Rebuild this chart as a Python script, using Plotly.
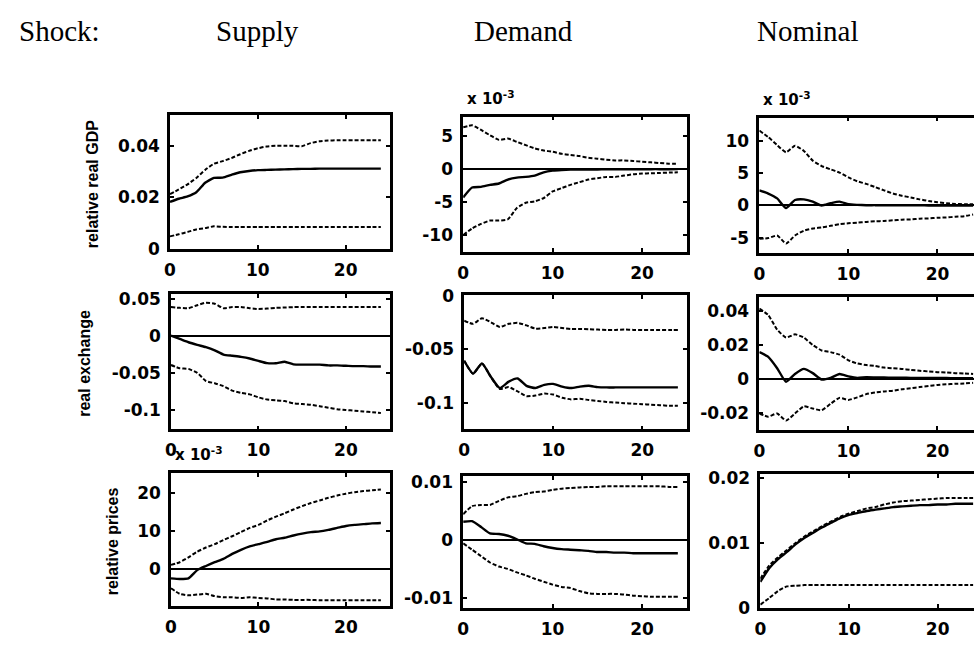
import plotly.graph_objects as go

W, H = 974, 646
horizon = list(range(25))

shocks = ["Supply", "Demand", "Nominal"]
variables = ["relative real GDP", "real exchange", "relative prices"]
x_ticks = [0, 10, 20]
x_tick_labels = ["0", "10", "20"]

# ---- relative real GDP ----
gdp_supply = [0.0182, 0.0194, 0.0203, 0.0219, 0.0256, 0.0275, 0.0276, 0.0287, 0.0297, 0.0302, 0.0305, 0.0306,
              0.0307, 0.0308, 0.0309, 0.0310, 0.0310, 0.0311, 0.0311, 0.0311, 0.0311, 0.0311, 0.0311, 0.0311, 0.0311]
gdp_supply_hi = [0.0212, 0.0230, 0.0250, 0.0275, 0.0306, 0.0330, 0.0340, 0.0352, 0.0367, 0.0380, 0.0390, 0.0397,
                 0.0400, 0.0400, 0.0400, 0.0398, 0.0410, 0.0417, 0.0420, 0.0421, 0.0421, 0.0421, 0.0421, 0.0421, 0.0421]
gdp_supply_lo = [0.0048, 0.0056, 0.0065, 0.0075, 0.0080, 0.0087, 0.0085, 0.0084, 0.0084, 0.0084, 0.0084, 0.0084,
                 0.0084, 0.0084, 0.0084, 0.0084, 0.0084, 0.0084, 0.0084, 0.0084, 0.0084, 0.0084, 0.0084, 0.0084, 0.0084]

# values in units of 1e-3
gdp_demand = [-4.3, -2.8, -2.7, -2.4, -2.2, -1.6, -1.3, -1.2, -1.0, -0.5, -0.25, -0.15, -0.1, -0.1, -0.08,
              -0.07, -0.06, -0.05, -0.05, -0.04, -0.04, -0.03, -0.03, -0.03, -0.02]
gdp_demand_hi = [6.3, 6.6, 5.9, 5.1, 4.4, 4.6, 4.1, 3.6, 3.1, 2.8, 2.6, 2.3, 2.1, 1.95, 1.7, 1.56, 1.4, 1.3,
                 1.3, 1.2, 1.1, 1.0, 0.9, 0.8, 0.8]
gdp_demand_lo = [-10.0, -9.0, -8.3, -7.8, -7.8, -7.6, -5.9, -5.1, -4.9, -4.4, -3.4, -2.9, -2.4, -2.0, -1.6,
                 -1.4, -1.2, -1.2, -1.0, -0.8, -0.7, -0.65, -0.6, -0.55, -0.5]

gdp_nominal = [2.35, 1.85, 1.1, -0.4, 0.85, 0.95, 0.6, 0.0, 0.35, 0.6, 0.2, 0.1, 0.05, 0.05, 0.03, 0.03,
               0.02, 0.02, 0.02, 0.01, 0.01, 0.01, 0.01, 0.01, 0.01]
gdp_nominal_hi = [11.6, 10.6, 9.35, 8.25, 9.25, 8.45, 6.95, 6.1, 5.6, 5.1, 4.35, 3.75, 3.35, 2.85, 2.35, 1.85,
                  1.5, 1.25, 0.95, 0.7, 0.5, 0.35, 0.25, 0.2, 0.2]
gdp_nominal_lo = [-5.15, -5.05, -4.65, -5.9, -4.65, -3.9, -3.55, -3.4, -3.15, -2.9, -2.75, -2.65, -2.55, -2.45,
                  -2.4, -2.3, -2.2, -2.15, -2.05, -2.0, -1.9, -1.85, -1.75, -1.65, -1.4]

# ---- real exchange ----
rer_supply = [0.0, -0.0044, -0.0088, -0.0123, -0.0154, -0.0197, -0.0254, -0.0270, -0.0285, -0.0307, -0.0340,
              -0.0370, -0.0370, -0.0350, -0.0386, -0.0390, -0.0390, -0.0390, -0.0400, -0.0400, -0.0405, -0.0410,
              -0.0410, -0.0415, -0.0415]
rer_supply_hi = [0.0386, 0.0375, 0.0370, 0.0410, 0.0445, 0.0430, 0.0370, 0.0385, 0.0385, 0.0370, 0.0360, 0.0365,
                 0.0375, 0.0380, 0.0385, 0.0385, 0.0385, 0.0385, 0.0385, 0.0385, 0.0385, 0.0385, 0.0385, 0.0385, 0.0385]
rer_supply_lo = [-0.0395, -0.0439, -0.0447, -0.0500, -0.0610, -0.0640, -0.0680, -0.0740, -0.0770, -0.0790, -0.0830,
                 -0.0860, -0.0870, -0.0880, -0.0910, -0.0920, -0.0930, -0.0950, -0.0970, -0.0990, -0.1000, -0.1010,
                 -0.1020, -0.1030, -0.1040]

rer_demand = [-0.0608, -0.0729, -0.0633, -0.0759, -0.0864, -0.0804, -0.0774, -0.0843, -0.0864, -0.0834, -0.0825,
              -0.0850, -0.0864, -0.0850, -0.0843, -0.0855, -0.0858, -0.0858, -0.0858, -0.0858, -0.0858, -0.0858,
              -0.0858, -0.0858, -0.0858]
rer_demand_hi = [-0.0232, -0.0262, -0.0210, -0.0247, -0.0292, -0.0262, -0.0253, -0.0277, -0.0307, -0.0301, -0.0292,
                 -0.0301, -0.0310, -0.0310, -0.0313, -0.0316, -0.0319, -0.0319, -0.0316, -0.0319, -0.0320, -0.0320,
                 -0.0320, -0.0320, -0.0320]
rer_demand_lo = [-0.0608, -0.0729, -0.0633, -0.0759, -0.0873, -0.0855, -0.0895, -0.0940, -0.0934, -0.0916, -0.0925,
                 -0.0955, -0.0970, -0.0964, -0.0976, -0.0985, -0.0994, -0.1000, -0.1006, -0.1010, -0.1015, -0.1020,
                 -0.1024, -0.1030, -0.1030]

rer_nominal = [0.0158, 0.0130, 0.0063, -0.0017, 0.0029, 0.0059, 0.0034, -0.0004, 0.0006, 0.0029, 0.0015, 0.0006,
               0.0010, 0.0009, 0.0008, 0.0007, 0.0007, 0.0006, 0.0006, 0.0005, 0.0005, 0.0005, 0.0004, 0.0004, 0.0004]
rer_nominal_hi = [0.0415, 0.0377, 0.0291, 0.0244, 0.0263, 0.0244, 0.0200, 0.0168, 0.0158, 0.0143, 0.0110, 0.0091,
                  0.0082, 0.0076, 0.0067, 0.0063, 0.0059, 0.0053, 0.0048, 0.0044, 0.0040, 0.0038, 0.0034, 0.0032, 0.0029]
rer_nominal_lo = [-0.0204, -0.0223, -0.0204, -0.0246, -0.0204, -0.0162, -0.0175, -0.0185, -0.0147, -0.0112, -0.0124,
                  -0.0109, -0.0090, -0.0080, -0.0074, -0.0070, -0.0061, -0.0055, -0.0048, -0.0042, -0.0036, -0.0032,
                  -0.0029, -0.0027, -0.0023]

# ---- relative prices ----
# values in units of 1e-3
prc_supply = [-2.6, -2.75, -2.6, -0.4, 0.7, 1.7, 2.6, 3.9, 5.0, 5.9, 6.5, 7.1, 7.8, 8.2, 8.8, 9.3, 9.7, 9.9,
              10.3, 10.8, 11.3, 11.6, 11.8, 12.0, 12.1]
prc_supply_hi = [1.0, 1.7, 3.0, 4.5, 5.6, 6.5, 7.6, 8.6, 9.7, 10.8, 11.6, 12.8, 13.8, 14.7, 15.7, 16.6, 17.4,
                 18.1, 18.8, 19.4, 19.9, 20.3, 20.6, 20.8, 21.0]
prc_supply_lo = [-5.2, -6.7, -7.1, -6.9, -6.7, -7.3, -7.6, -7.6, -7.8, -7.6, -7.8, -7.9, -8.2, -8.2, -8.3, -8.3,
                 -8.3, -8.4, -8.4, -8.4, -8.4, -8.4, -8.4, -8.4, -8.4]

prc_demand = [0.0031, 0.0032, 0.0022, 0.0011, 0.0010, 0.0007, 0.0001, -0.0006, -0.0007, -0.0011, -0.0014, -0.0016,
              -0.0017, -0.0018, -0.0019, -0.0021, -0.0021, -0.0022, -0.0022, -0.0023, -0.0023, -0.0023, -0.0023,
              -0.0023, -0.0023]
prc_demand_hi = [0.0044, 0.0058, 0.0060, 0.0060, 0.0067, 0.0073, 0.0075, 0.0079, 0.0082, 0.0083, 0.0086, 0.0088,
                 0.0089, 0.0090, 0.0091, 0.0091, 0.0092, 0.0092, 0.0092, 0.0092, 0.0092, 0.0092, 0.0092, 0.0091, 0.0091]
prc_demand_lo = [-0.0006, -0.0017, -0.0028, -0.0039, -0.0046, -0.0050, -0.0056, -0.0061, -0.0067, -0.0072, -0.0077,
                 -0.0081, -0.0083, -0.0088, -0.0092, -0.0093, -0.0093, -0.0093, -0.0094, -0.0096, -0.0097, -0.0098,
                 -0.0098, -0.0098, -0.0098]

prc_nominal = [0.0040, 0.0061, 0.0075, 0.0086, 0.0098, 0.0108, 0.0116, 0.0124, 0.0131, 0.0138, 0.0143, 0.0146,
               0.0149, 0.0151, 0.0153, 0.0155, 0.0156, 0.0157, 0.0158, 0.0158, 0.0159, 0.0159, 0.0160, 0.0160, 0.0160]
prc_nominal_hi = [0.0045, 0.0065, 0.0078, 0.0089, 0.0100, 0.0110, 0.0118, 0.0126, 0.0133, 0.0140, 0.0145, 0.0149,
                  0.0153, 0.0155, 0.0159, 0.0162, 0.0164, 0.0165, 0.0166, 0.0167, 0.0168, 0.0169, 0.0169, 0.0169, 0.0169]
prc_nominal_lo = [0.0005, 0.0015, 0.0026, 0.0033, 0.0034, 0.0035, 0.0035, 0.0035, 0.0035, 0.0035, 0.0035, 0.0035,
                  0.0035, 0.0035, 0.0035, 0.0035, 0.0035, 0.0035, 0.0035, 0.0035, 0.0035, 0.0035, 0.0035, 0.0035, 0.0035]

# y tick values / labels per panel
yt_gdp_supply = ([0, 0.02, 0.04], ["0", "0.02", "0.04"])
yt_gdp_demand = ([-10, -5, 0, 5], ["-10", "-5", "0", "5"])
yt_gdp_nominal = ([-5, 0, 5, 10], ["-5", "0", "5", "10"])
yt_rer_supply = ([-0.1, -0.05, 0, 0.05], ["-0.1", "-0.05", "0", "0.05"])
yt_rer_demand = ([-0.1, -0.05, 0], ["-0.1", "-0.05", "0"])
yt_rer_nominal = ([-0.02, 0, 0.02, 0.04], ["-0.02", "0", "0.02", "0.04"])
yt_prc_supply = ([0, 10, 20], ["0", "10", "20"])
yt_prc_demand = ([-0.01, 0, 0.01], ["-0.01", "0", "0.01"])
yt_prc_nominal = ([0, 0.01, 0.02], ["0", "0.01", "0.02"])

# panels: (series, y range, y ticks, pixel box [x0, x1, y_top, y_bottom], x range end, scaled label)
panels = [
    ((gdp_supply, gdp_supply_hi, gdp_supply_lo), [0, 0.052], yt_gdp_supply, [165, 386, 109, 247], 25, False),
    ((gdp_demand, gdp_demand_hi, gdp_demand_lo), [-12.5, 7.9], yt_gdp_demand, [460, 685, 111, 250], 25, True),
    ((gdp_nominal, gdp_nominal_hi, gdp_nominal_lo), [-7.3, 13.6], yt_gdp_nominal, [758, 974, 112, 251], 24.1, True),
    ((rer_supply, rer_supply_hi, rer_supply_lo), [-0.126, 0.0557], yt_rer_supply, [166, 386, 294, 433], 25, False),
    ((rer_demand, rer_demand_hi, rer_demand_lo), [-0.125, 0.0005], yt_rer_demand, [461, 685, 295, 433], 25, False),
    ((rer_nominal, rer_nominal_hi, rer_nominal_lo), [-0.0303, 0.0482], yt_rer_nominal, [758, 974, 297, 434], 24.1, False),
    ((prc_supply, prc_supply_hi, prc_supply_lo), [-9.9, 25.4], yt_prc_supply, [166, 386, 478, 615], 25, True),
    ((prc_demand, prc_demand_hi, prc_demand_lo), [-0.0117, 0.011], yt_prc_demand, [460, 685, 481, 617], 25, False),
    ((prc_nominal, prc_nominal_hi, prc_nominal_lo), [0, 0.0206], yt_prc_nominal, [759, 974, 479, 617], 24.1, False),
]

tick_font = dict(family="DejaVu Sans", size=17, color="black", weight="bold")

fig = go.Figure()
layout = {}
annotations = []

for i, (series, yr, yt, box, xend, scaled) in enumerate(panels):
    n = i + 1
    xa = "x" if n == 1 else f"x{n}"
    ya = "y" if n == 1 else f"y{n}"
    irf, hi, lo = series
    for vals, dash, width in ((hi, "4px,2px", 2.0), (lo, "4px,2px", 2.0), (irf, "solid", 2.4)):
        fig.add_trace(go.Scatter(x=horizon, y=vals, mode="lines", xaxis=xa, yaxis=ya,
                                 line=dict(color="black", width=width, dash=dash, shape="spline",
                                           smoothing=0.5),
                                 showlegend=False, hoverinfo="skip"))
    x0, x1, yt0, yb = box
    col3 = (i % 3 == 2)
    layout["xaxis" if n == 1 else f"xaxis{n}"] = dict(
        domain=[x0 / W, min(x1 / W, 1.0)], range=[0, xend], anchor=ya,
        showgrid=False, zeroline=False, showline=True, linecolor="black", linewidth=2.5,
        mirror="ticks", ticks="inside", ticklen=4, tickwidth=1.5, tickcolor="black",
        tickvals=x_ticks, ticktext=x_tick_labels, tickfont=tick_font, ticklabelstandoff=4,
        fixedrange=True)
    layout["yaxis" if n == 1 else f"yaxis{n}"] = dict(
        domain=[1 - yb / H, 1 - yt0 / H], range=yr, anchor=xa,
        showgrid=False, zeroline=True, zerolinecolor="black", zerolinewidth=2,
        showline=True, linecolor="black", linewidth=2.5,
        mirror=False if col3 else "ticks", ticks="inside", ticklen=4, tickwidth=1.5, tickcolor="black",
        tickvals=yt[0], ticktext=yt[1], tickfont=tick_font, ticklabelstandoff=4,
        fixedrange=True)
    if scaled:
        annotations.append(dict(text="x 10<sup>-3</sup>", x=(x0 + 2) / W, y=1 - (yt0 - 7) / H,
                                xref="paper", yref="paper", xanchor="left", yanchor="bottom",
                                showarrow=False, font=dict(family="DejaVu Sans", size=15,
                                                           color="black", weight="bold")))

# column headers
header_font = dict(family="Liberation Serif", size=29, color="black")
annotations.append(dict(text="Shock:", x=11 / W, y=1 - 23 / H, xref="paper", yref="paper",
                        xanchor="left", yanchor="middle", showarrow=False, font=header_font))
for name, cx in zip(shocks, [253, 521, 807]):
    annotations.append(dict(text=name, x=cx / W, y=1 - 23 / H, xref="paper", yref="paper",
                            xanchor="center", yanchor="middle", showarrow=False, font=header_font))

# row labels
label_font = dict(family="Liberation Sans", size=16, color="black", weight="bold")
for name, cx, cy in zip(variables, [87, 79, 108], [180, 365, 548]):
    annotations.append(dict(text=name, x=cx / W, y=1 - cy / H, xref="paper", yref="paper",
                            xanchor="center", yanchor="middle", textangle=-90, showarrow=False,
                            font=label_font))

fig.update_layout(width=W, height=H, margin=dict(l=0, r=0, t=0, b=0),
                  paper_bgcolor="white", plot_bgcolor="white",
                  annotations=annotations, **layout)

fig.write_html("out.html", include_plotlyjs=True, config={"displayModeBar": False})
